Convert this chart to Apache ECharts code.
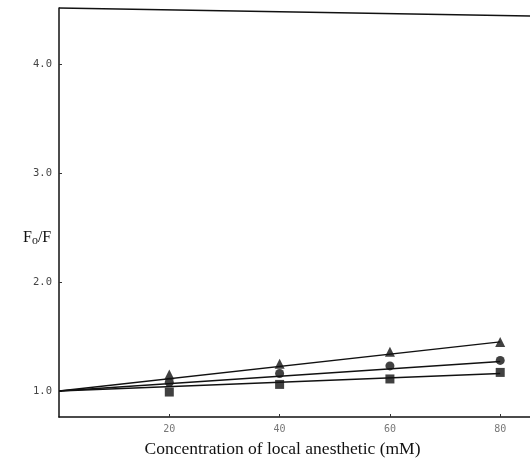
<!DOCTYPE html>
<html>
<head>
<meta charset="utf-8">
<script src="https://cdn.jsdelivr.net/npm/echarts@6/dist/echarts.min.js"></script>
<style>
  html, body { margin: 0; padding: 0; background: #fff; }
  #chart { width: 530px; height: 459px; }
</style>
</head>
<body>
<div id="chart"></div>
<script>
// Concentration of local anesthetic (mM)
var concentrations = [20, 40, 60, 80];
// Fo/F measured for the three anesthetics
var triangleValues = [1.15, 1.25, 1.36, 1.45];
var circleValues = [1.08, 1.16, 1.23, 1.28];
var squareValues = [0.99, 1.06, 1.11, 1.17];
// Fitted Stern-Volmer lines: Fo/F at 0 mM and at 80 mM
var fitX = [0, 80];
var triangleFit = [1.0, 1.45];
var circleFit = [1.0, 1.27];
var squareFit = [1.0, 1.16];
// Axis tick labels
var yTicks = [1, 2, 3, 4];
var xTicks = [20, 40, 60, 80];

function pairs(xs, ys) {
  return xs.map(function (x, i) { return [x, ys[i]]; });
}

var chart = echarts.init(document.getElementById('chart'), null, { renderer: 'canvas' });

var lineStyle = { color: '#111', width: 1.4 };
function fitSeries(vals) {
  return {
    type: 'line', data: pairs(fitX, vals), symbol: 'none', silent: true,
    lineStyle: lineStyle, z: 2
  };
}
function pointSeries(vals, symbol, size) {
  return {
    type: 'scatter', data: pairs(concentrations, vals), symbol: symbol, symbolSize: size,
    itemStyle: { color: '#111' }, z: 3
  };
}

chart.setOption({
  animation: false,
  backgroundColor: '#fff',
  grid: { left: 59, right: 0, top: 8, bottom: 42, outerBoundsMode: 'none', containLabel: false },
  xAxis: {
    type: 'value', min: 0, max: 85.4,
    name: 'Concentration of local anesthetic (mM)',
    nameLocation: 'middle', nameGap: 23,
    nameTextStyle: { fontFamily: 'Liberation Serif', fontSize: 17.5, color: '#111', padding: [0, 24, 0, 0] },
    splitLine: { show: false },
    axisLine: { show: true, lineStyle: { color: '#111', width: 1.5 } },
    axisTick: { show: true, inside: true, length: 3, customValues: xTicks, lineStyle: { color: '#333' } },
    axisLabel: {
      customValues: xTicks, margin: 7,
      fontFamily: 'DejaVu Sans Mono', fontSize: 10, color: '#777'
    }
  },
  yAxis: {
    type: 'value', min: 0.761, max: 4.513,
    splitLine: { show: false },
    axisLine: { show: true, lineStyle: { color: '#111', width: 1.5 } },
    axisTick: { show: true, inside: true, length: 3, customValues: yTicks, lineStyle: { color: '#333' } },
    axisLabel: {
      customValues: yTicks, margin: 7,
      fontFamily: 'DejaVu Sans Mono', fontSize: 10.5,
      color: function (v) { return (v === 2 || v === 3) ? '#999' : '#444'; },
      formatter: function (v) { return v.toFixed(1); }
    }
  },
  graphic: [{
    type: 'line', silent: true,
    shape: { x1: 59, y1: 8, x2: 530, y2: 16 },
    style: { stroke: '#111', lineWidth: 1.4 }
  }, {
    // y-axis title, Fo/F
    type: 'text', silent: true, left: 23, top: 230,
    style: {
      text: '{f|F}{s|o}{f|/F}',
      rich: {
        f: { fontFamily: 'Liberation Serif', fontSize: 16, fill: '#111' },
        s: { fontFamily: 'Liberation Serif', fontSize: 12, fill: '#111', padding: [6, 0, 0, 0] }
      }
    }
  }],
  series: [
    fitSeries(triangleFit),
    fitSeries(circleFit),
    fitSeries(squareFit),
    pointSeries(triangleValues, 'triangle', 10),
    pointSeries(circleValues, 'circle', 9),
    pointSeries(squareValues, 'rect', 9)
  ]
});
</script>
</body>
</html>
